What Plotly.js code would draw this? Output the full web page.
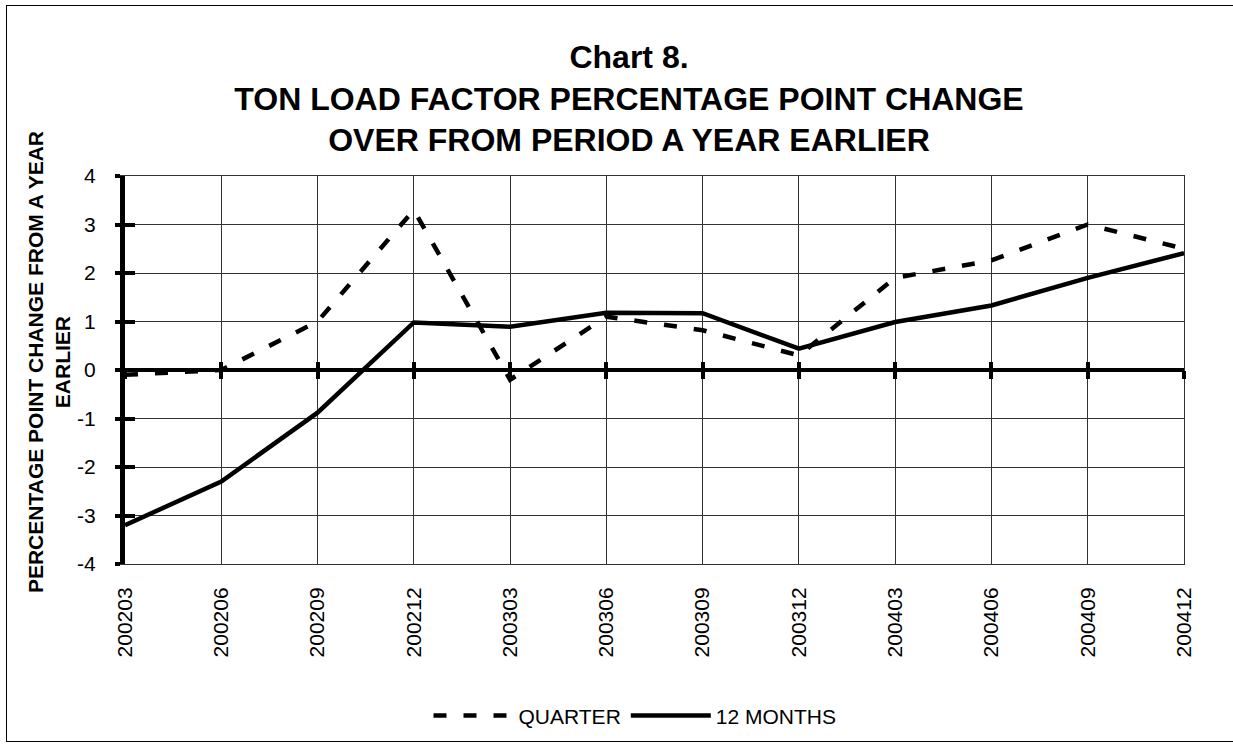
<!DOCTYPE html>
<html>
<head>
<meta charset="utf-8">
<script src="https://cdn.plot.ly/plotly-3.0.1.min.js"></script>
<style>
html,body{margin:0;padding:0;background:#fff;overflow:hidden;}
#wrap{position:relative;width:1233px;height:748px;}
#chart{position:absolute;left:0;top:0;width:1233px;height:748px;}
#frame{position:absolute;left:6px;top:5px;width:1240px;height:737px;border:1.5px solid #000;pointer-events:none;box-sizing:border-box;}
</style>
</head>
<body>
<div id="wrap"><div id="chart"></div><div id="frame"></div></div>
<script>
const categories = ['200203','200206','200209','200212','200303','200306','200309','200312','200403','200406','200409','200412'];
const quarter    = [-0.1, 0.0, 1.0, 3.3, -0.2, 1.1, 0.82, 0.3, 1.9, 2.26, 3.0, 2.5];
const twelveMonths = [-3.2, -2.3, -0.88, 0.98, 0.89, 1.18, 1.17, 0.44, 0.99, 1.33, 1.9, 2.41];
const seriesNames = ['QUARTER', '12 MONTHS'];
const yTicks = [-4,-3,-2,-1,0,1,2,3,4];
const yTickLabels = ['-4','-3','-2','-1','0','1','2','3','4'];

const idx = categories.map((c,i)=>i);
const FONT = 'Liberation Sans, Arial, sans-serif';

const traces = [
  {x: idx, y: quarter, name: seriesNames[0], type:'scatter', mode:'lines',
   line:{color:'#000', width:4.5, dash:'13px,17px'}, hoverinfo:'skip'},
  {x: idx, y: twelveMonths, name: seriesNames[1], type:'scatter', mode:'lines',
   line:{color:'#000', width:4.5}, hoverinfo:'skip'},
  // invisible carriers so the overlay axes (tick marks / edge line) are drawn
  {x: idx, y: twelveMonths, xaxis:'x2', yaxis:'y', type:'scatter', mode:'none', showlegend:false, hoverinfo:'skip'},
  {x: idx, y: twelveMonths, xaxis:'x3', yaxis:'y', type:'scatter', mode:'none', showlegend:false, hoverinfo:'skip'},
  {x: idx, y: twelveMonths, xaxis:'x', yaxis:'y2', type:'scatter', mode:'none', showlegend:false, hoverinfo:'skip'},
  {x: idx, y: twelveMonths, xaxis:'x', yaxis:'y3', type:'scatter', mode:'none', showlegend:false, hoverinfo:'skip'}
];

const xr = [0, categories.length-1];
const layout = {
  width:1233, height:748,
  margin:{l:125, r:49, t:176, b:181},
  paper_bgcolor:'#fff', plot_bgcolor:'#fff',
  font:{family:FONT, size:21, color:'#000'},
  title:{text:'<b>Chart 8.<br>TON LOAD FACTOR PERCENTAGE POINT CHANGE<br>OVER FROM PERIOD A YEAR EARLIER</b>',
    font:{family:FONT, size:32, color:'#000'},
    x:629/1233, xref:'container', xanchor:'center',
    y:1-68/748, yref:'container', yanchor:'top'},
  xaxis:{range:xr, tickvals:idx, ticktext:categories, tickangle:-90,
    showgrid:true, gridcolor:'#333', gridwidth:1, zeroline:false,
    showline:true, linecolor:'#333', linewidth:1, mirror:true,
    ticks:'', ticklabelstandoff:14,
    tickfont:{family:FONT, size:21, color:'#000'}, fixedrange:true},
  xaxis2:{range:xr, tickvals:idx, overlaying:'x', anchor:'free', position:0.5,
    showgrid:false, zeroline:false, showline:false, showticklabels:false,
    ticks:'outside', ticklen:8, tickwidth:4, tickcolor:'#000'},
  xaxis3:{range:xr, tickvals:idx, overlaying:'x', anchor:'free', position:0.5,
    showgrid:false, zeroline:false, showline:false, showticklabels:false,
    ticks:'inside', ticklen:8, tickwidth:4, tickcolor:'#000'},
  yaxis:{range:[-4,4], tickvals:yTicks, ticktext:yTickLabels, showgrid:true, gridcolor:'#333', gridwidth:1,
    zeroline:true, zerolinecolor:'#000', zerolinewidth:4.5,
    showline:true, linecolor:'#000', linewidth:5,
    ticks:'outside', ticklen:5, tickwidth:4, tickcolor:'#000',
    ticklabelstandoff:15,
    tickfont:{family:FONT, size:21, color:'#000'}, fixedrange:true},
  yaxis2:{range:[-4,4], tickvals:yTicks, overlaying:'y', side:'left', anchor:'x',
    showgrid:false, zeroline:false, showline:false, showticklabels:false,
    ticks:'inside', ticklen:10, tickwidth:4, tickcolor:'#000'},
  yaxis3:{range:[-4,4], tickvals:yTicks, overlaying:'y', side:'right', anchor:'x',
    showgrid:false, zeroline:false, showline:true, linecolor:'#333', linewidth:1,
    showticklabels:false, ticks:''},
  showlegend:true,
  legend:{orientation:'h', x:(635-125)/1059, xanchor:'center', y:-(720-567)/391, yanchor:'middle',
    itemwidth:80,
    font:{family:FONT, size:21, color:'#000'}, bgcolor:'rgba(0,0,0,0)'},
  annotations:[{
    text:'<b>PERCENTAGE POINT CHANGE FROM A YEAR<br>EARLIER</b>',
    xref:'paper', yref:'paper', x:(48.5-125)/1059, y:(567-364)/391,
    xanchor:'center', yanchor:'middle', textangle:-90, showarrow:false,
    font:{family:FONT, size:21, color:'#000'}
  }]
};

Plotly.newPlot('chart', traces, layout, {displayModeBar:false, staticPlot:true});
</script>
</body>
</html>
